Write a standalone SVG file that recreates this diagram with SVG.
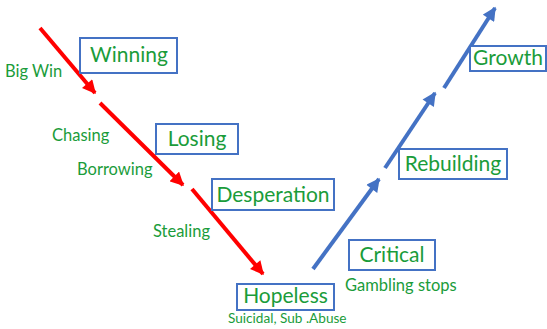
<svg xmlns="http://www.w3.org/2000/svg" width="547" height="329" viewBox="0 0 547 329">
<defs>
<marker id="ar" viewBox="0 0 10 10" refX="9" refY="5" markerWidth="3.6" markerHeight="3.4" orient="auto" markerUnits="strokeWidth"><path d="M0,0 L10,5 L0,10 Z" fill="#FF0000"/></marker>
<marker id="ab" viewBox="0 0 10 10" refX="9" refY="5" markerWidth="3.6" markerHeight="3.4" orient="auto" markerUnits="strokeWidth"><path d="M0,0 L10,5 L0,10 Z" fill="#4472C4"/></marker>
</defs>
<style>
.box{fill:#fff;stroke:#4472C4;stroke-width:2}
.t{font-family:Lato,"Liberation Sans",sans-serif;fill:#1A9C3A}
.big{font-size:21px;text-anchor:middle}
.lab{font-size:16.5px}
.red{stroke:#FF0000;stroke-width:4;fill:none;marker-end:url(#ar)}
.blue{stroke:#4472C4;stroke-width:4;fill:none;marker-end:url(#ab)}
</style>
<rect width="547" height="329" fill="#fff"/>
<g id="connectors">
<line class="red" x1="40" y1="28" x2="95" y2="93"/>
<line class="red" x1="100" y1="103" x2="183" y2="185"/>
<line class="red" x1="192" y1="189" x2="263" y2="274"/>
<line class="blue" x1="313" y1="269" x2="379" y2="179"/>
<line class="blue" x1="385" y1="168" x2="435" y2="93"/>
<line class="blue" x1="444" y1="88" x2="495" y2="8"/>
</g>
<g id="winning"><rect class="box" x="80" y="38" width="97" height="35"/><text class="t big" x="129" y="62">Winning</text></g>
<g id="losing"><rect class="box" x="156" y="124" width="82" height="30"/><text class="t big" x="197" y="146">Losing</text></g>
<g id="desperation"><rect class="box" x="212" y="179" width="122" height="31"/><text class="t big" x="273" y="202">Desperation</text></g>
<g id="hopeless"><rect class="box" x="237" y="284" width="97" height="26"/><text class="t big" x="285.5" y="302.5">Hopeless</text></g>
<g id="critical"><rect class="box" x="349" y="240" width="86" height="30"/><text class="t big" x="392" y="262">Critical</text></g>
<g id="rebuilding"><rect class="box" x="399" y="149" width="108" height="30"/><text class="t big" x="453" y="171">Rebuilding</text></g>
<g id="growth"><rect class="box" x="470" y="46" width="76" height="25"/><text class="t big" x="508" y="65">Growth</text></g>
<g id="labels">
<text class="t lab" x="5" y="77">Big Win</text>
<text class="t lab" x="52" y="141">Chasing</text>
<text class="t lab" x="77" y="175">Borrowing</text>
<text class="t lab" x="153" y="237">Stealing</text>
<text class="t lab" x="345" y="291">Gambling stops</text>
<text class="t" x="228" y="323" font-size="13.6">Suicidal, Sub .Abuse</text>
</g>
</svg>
